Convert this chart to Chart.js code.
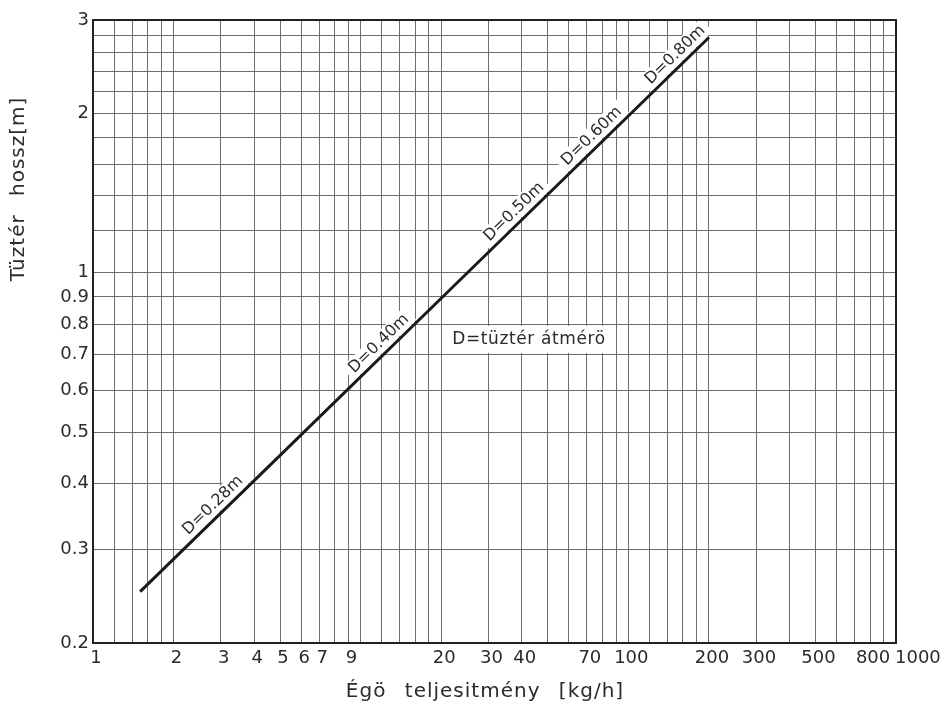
<!DOCTYPE html>
<html>
<head>
<meta charset="utf-8">
<script src="https://cdn.jsdelivr.net/npm/chart.js@4.4.1/dist/chart.umd.min.js"></script>
<style>
  html, body { margin: 0; padding: 0; background: #fff; }
  #wrap { width: 949px; height: 710px; position: relative; }
</style>
</head>
<body>
<div id="wrap"><canvas id="chart"></canvas></div>
<script>
// ── data ──────────────────────────────────
var xGrid = [1, 1.2, 1.4, 1.6, 1.8, 2, 3, 4, 5, 6, 7, 8, 9, 10, 12, 14, 16, 18, 20,
  30, 40, 50, 60, 70, 80, 90, 100, 120, 140, 160, 180, 200, 300, 400, 500, 600, 700, 800, 900, 1000];
var xTickLabels = [1, 2, 3, 4, 5, 6, 7, 9, 20, 30, 40, 70, 100, 200, 300, 500, 800, 1000];
var yGrid = [0.2, 0.3, 0.4, 0.5, 0.6, 0.7, 0.8, 0.9, 1, 1.2, 1.4, 1.6, 1.8, 2, 2.2, 2.4, 2.6, 2.8, 3];
var yTickLabels = [0.2, 0.3, 0.4, 0.5, 0.6, 0.7, 0.8, 0.9, 1, 2, 3];

var loadKg  = [1.5, 4, 20, 200];          // Égö teljesitmény [kg/h]
var lengthM = [0.25, 0.405, 0.895, 2.78]; // Tüztér hossz [m]

var diaLabels = ['D=0.28m', 'D=0.40m', 'D=0.50m', 'D=0.60m', 'D=0.80m'];
var diaAtLoad = [3, 12.5, 40, 78, 160];
var noteText  = 'D=tüztér átmérö';
var noteAt    = [22, 0.75];
var xTitle = 'Égö teljesitmény [kg/h]';
var yTitle = 'Tüztér hossz[m]';

var FONT = '"DejaVu Sans", sans-serif';
var INK  = '#2b2b2b';

function onLine(chart, xv) {
  var pts = chart.getDatasetMeta(0).data;
  var px = chart.scales.x.getPixelForValue(xv);
  for (var i = 0; i < pts.length - 1; i++) {
    if (px <= pts[i + 1].x || i === pts.length - 2) {
      var a = pts[i], b = pts[i + 1];
      var t = (px - a.x) / (b.x - a.x);
      return { x: px, y: a.y + t * (b.y - a.y), ang: Math.atan2(b.y - a.y, b.x - a.x) };
    }
  }
}

function labelBox(chart, i) {
  var p = onLine(chart, diaAtLoad[i]);
  var off = 11;
  return {
    cx: p.x + Math.sin(p.ang) * off,
    cy: p.y - Math.cos(p.ang) * off,
    ang: p.ang
  };
}

var extras = {
  id: 'extras',
  beforeDraw: function (chart) {
    // last x label starts at the right edge instead of being centred on it
    var sx = chart.scales.x;
    sx.getLabelItems().forEach(function (it) {
      if (it.label === '1000') {
        it.options.textAlign = 'left';
        it.options.translation[0] = sx.getPixelForValue(1000) - 1;
      }
    });
  },
  beforeDatasetsDraw: function (chart) {
    var ctx = chart.ctx;
    var xs = chart.scales.x, ys = chart.scales.y;
    ctx.save();
    // note in the plot
    ctx.font = '17px ' + FONT;
    ctx.letterSpacing = '0.6px';
    var w = ctx.measureText(noteText).width;
    var nx = xs.getPixelForValue(noteAt[0]), ny = ys.getPixelForValue(noteAt[1]);
    ctx.fillStyle = '#fff';
    ctx.fillRect(nx - 6, ny - 13, w + 12, 27);
    ctx.fillStyle = INK;
    ctx.textBaseline = 'middle';
    ctx.textAlign = 'left';
    ctx.fillText(noteText, nx, ny + 1);
    // white boxes behind the diameter labels
    ctx.font = '16px ' + FONT;
    ctx.letterSpacing = '0px';
    diaLabels.forEach(function (t, i) {
      var b = labelBox(chart, i);
      var tw = ctx.measureText(t).width;
      ctx.save();
      ctx.translate(b.cx, b.cy);
      ctx.rotate(b.ang);
      ctx.fillStyle = '#fff';
      ctx.fillRect(-tw / 2 - 5, -9, tw + 10, 18);
      ctx.restore();
    });
    ctx.restore();
  },
  afterDatasetsDraw: function (chart) {
    var ctx = chart.ctx;
    ctx.save();
    ctx.font = '16px ' + FONT;
    ctx.fillStyle = INK;
    ctx.textAlign = 'center';
    ctx.textBaseline = 'middle';
    diaLabels.forEach(function (t, i) {
      var b = labelBox(chart, i);
      ctx.save();
      ctx.translate(b.cx, b.cy);
      ctx.rotate(b.ang);
      ctx.fillText(t, 0, 0);
      ctx.restore();
    });
    ctx.restore();
  },
  afterDraw: function (chart) {
    var ctx = chart.ctx, a = chart.chartArea;
    ctx.save();
    ctx.strokeStyle = '#222';
    ctx.lineWidth = 2;
    ctx.strokeRect(a.left, a.top, a.right - a.left, a.bottom - a.top);
    // axis titles
    ctx.fillStyle = INK;
    ctx.font = '20px ' + FONT;
    ctx.wordSpacing = '11px';
    ctx.letterSpacing = '1px';
    ctx.textAlign = 'center';
    ctx.textBaseline = 'alphabetic';
    ctx.fillText(xTitle, 485, 697);
    ctx.translate(24, 189);
    ctx.rotate(-Math.PI / 2);
    ctx.fillText(yTitle, 0, 0);
    ctx.restore();
  }
};

new Chart(document.getElementById('chart').getContext('2d'), {
  type: 'line',
  data: {
    datasets: [{
      data: loadKg.map(function (x, i) { return { x: x, y: lengthM[i] }; }),
      borderColor: '#1a1a1a',
      borderWidth: 3,
      pointRadius: 0,
      tension: 0,
      fill: false,
    }],
  },
  options: {
    responsive: true,
    maintainAspectRatio: false,
    animation: false,
    layout: { padding: { left: 0, right: 53, top: 20, bottom: 0 } },
    plugins: { legend: { display: false }, tooltip: { enabled: false } },
    scales: {
      x: {
        type: 'logarithmic',
        min: 1, max: 1000,
        afterBuildTicks: function (s) { s.ticks = xGrid.map(function (v) { return { value: v }; }); },
        afterFit: function (s) { s.height = 67; },
        grid: { color: '#6e6e6e', lineWidth: 1, drawTicks: false },
        border: { display: true, color: '#222', width: 2 },
        ticks: {
          autoSkip: false, maxRotation: 0, minRotation: 0, padding: 5, labelOffset: 3,
          color: INK, font: { family: FONT, size: 18 },
          callback: function (v) { return xTickLabels.indexOf(v) >= 0 ? String(v) : ''; },
        },
      },
      y: {
        type: 'logarithmic',
        min: 0.2, max: 3,
        afterBuildTicks: function (s) { s.ticks = yGrid.map(function (v) { return { value: v }; }); },
        afterFit: function (s) { s.width = 93; },
        grid: { color: '#6e6e6e', lineWidth: 1, drawTicks: false },
        border: { display: true, color: '#222', width: 2 },
        ticks: {
          autoSkip: false, padding: 4,
          color: INK, font: { family: FONT, size: 18 },
          callback: function (v) { return yTickLabels.indexOf(v) >= 0 ? String(v) : ''; },
        },
      },
    },
  },
  plugins: [extras],
});
</script>
</body>
</html>
